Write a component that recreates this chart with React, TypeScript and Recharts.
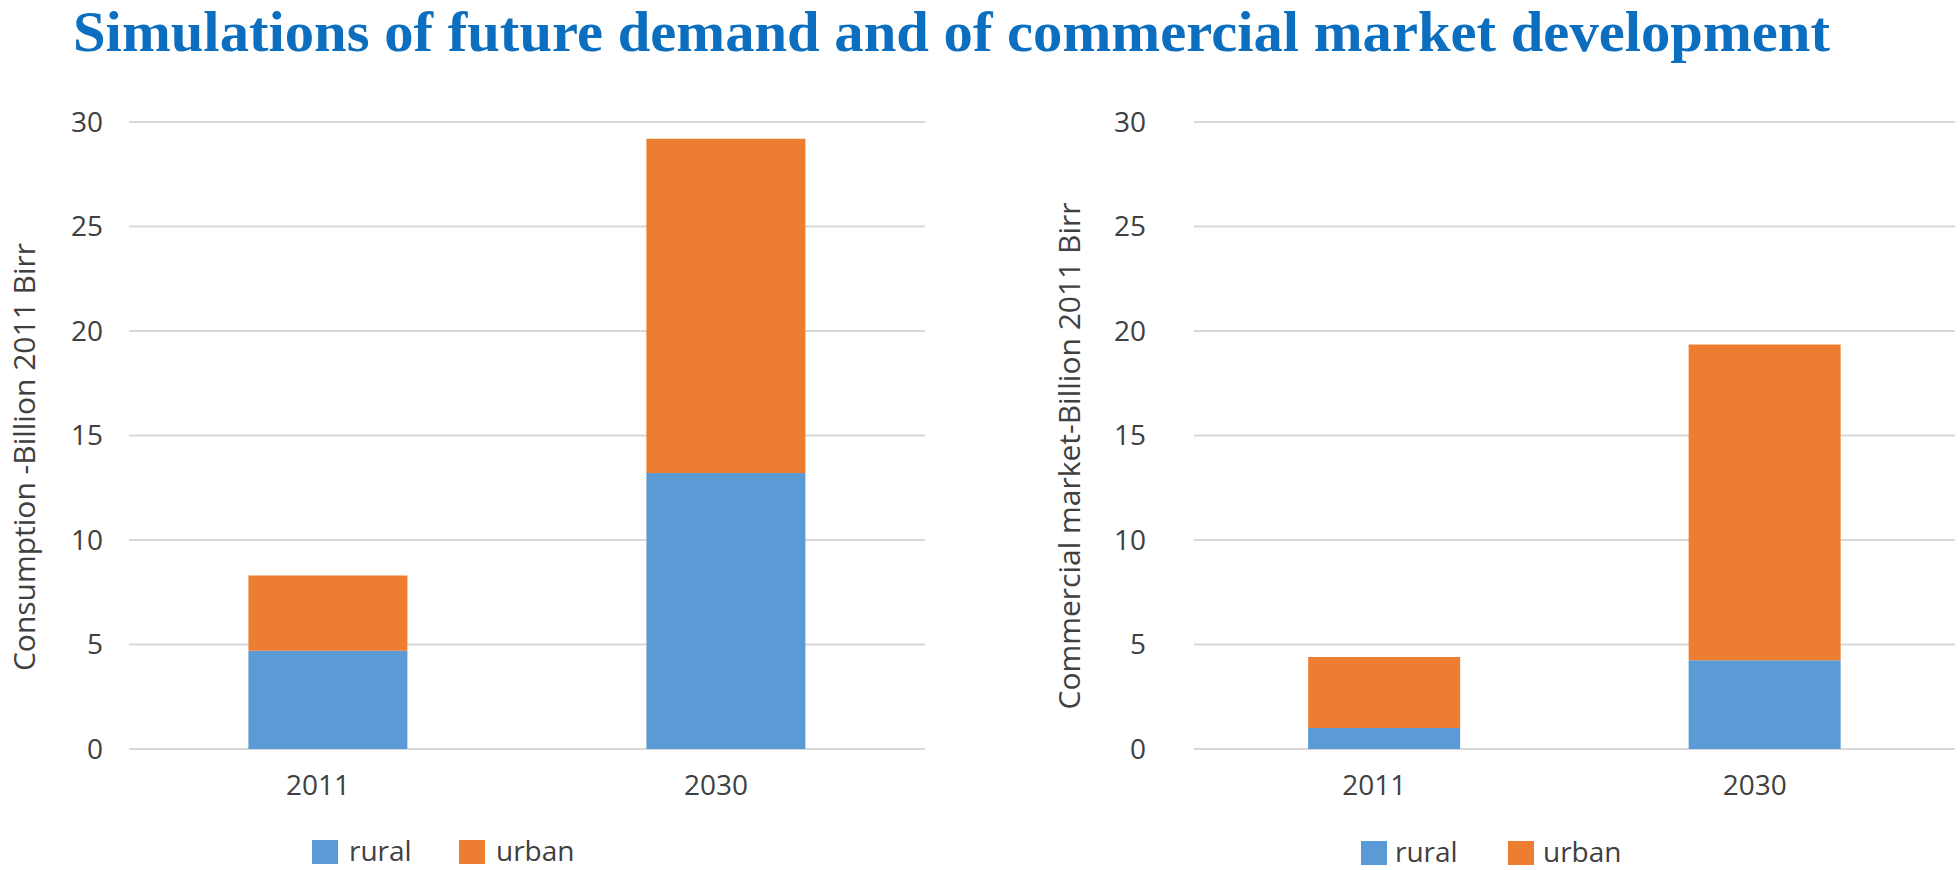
import React from "react";
import {
  BarChart,
  Bar,
  XAxis,
  YAxis,
  CartesianGrid,
} from "recharts";

// categories and values
const YEARS = ["2011", "2030"];
const CONSUMPTION_RURAL = [4.7, 13.2];
const CONSUMPTION_URBAN = [3.6, 16.0];
const MARKET_RURAL = [1.0, 4.25];
const MARKET_URBAN = [3.4, 15.1];
const Y_TICKS = [0, 5, 10, 15, 20, 25, 30];

const RURAL_COLOR = "#5b9bd5";
const URBAN_COLOR = "#ed7d31";
const GRID_COLOR = "#d9d9d9";
const TEXT_COLOR = "#404040";
const FONT = "'Open Sans', sans-serif";

const buildRows = (rural: number[], urban: number[]) =>
  YEARS.map((year, i) => ({ year, rural: rural[i], urban: urban[i] }));

interface PanelProps {
  rural: number[];
  urban: number[];
  left: number;
  axisWidth: number;
  tickGap: number;
  marginRight: number;
  yLabel: string;
  labelX: number;
  labelY: number;
}

function Panel({
  rural,
  urban,
  left,
  axisWidth,
  tickGap,
  marginRight,
  yLabel,
  labelX,
  labelY,
}: PanelProps) {
  const data = buildRows(rural, urban);
  return (
    <div style={{ position: "absolute", left, top: 0 }}>
      <BarChart
        width={960}
        height={870}
        data={data}
        margin={{ top: 122, right: marginRight, bottom: 81, left: 0 }}
        barCategoryGap="30%"
      >
        <CartesianGrid
          vertical={false}
          stroke={GRID_COLOR}
          strokeWidth={2}
        />
        <XAxis
          dataKey="year"
          height={40}
          axisLine={false}
          tickLine={false}
          tickMargin={20}
          tick={{ fill: TEXT_COLOR, fontSize: 28, fontFamily: FONT, dx: -10 }}
        />
        <YAxis
          width={axisWidth}
          domain={[0, 30]}
          ticks={Y_TICKS}
          axisLine={false}
          tickLine={false}
          tickMargin={tickGap}
          tick={{ fill: TEXT_COLOR, fontSize: 28, fontFamily: FONT }}
          label={{
            content: () => (
              <text
                x={labelX}
                y={labelY}
                transform={`rotate(-90, ${labelX}, ${labelY})`}
                textAnchor="middle"
                dominantBaseline="central"
                fill={TEXT_COLOR}
                fontSize={30}
                fontFamily={FONT}
              >
                {yLabel}
              </text>
            ),
          }}
        />
        <Bar
          dataKey="rural"
          stackId="a"
          fill={RURAL_COLOR}
          isAnimationActive={false}
        />
        <Bar
          dataKey="urban"
          stackId="a"
          fill={URBAN_COLOR}
          isAnimationActive={false}
        />
      </BarChart>
    </div>
  );
}

function LegendItem({
  x,
  textX,
  top,
  color,
  text,
}: {
  x: number;
  textX: number;
  top: number;
  color: string;
  text: string;
}) {
  return (
    <>
      <div
        style={{
          position: "absolute",
          left: x,
          top,
          width: 26,
          height: 24,
          background: color,
        }}
      />
      <div
        style={{
          position: "absolute",
          left: textX,
          top: top - 3,
          fontFamily: FONT,
          fontSize: 28,
          lineHeight: "26px",
          color: TEXT_COLOR,
        }}
      >
        {text}
      </div>
    </>
  );
}

export default function App() {
  return (
    <div
      style={{
        position: "absolute",
        left: 0,
        top: 0,
        width: 1960,
        height: 870,
        background: "#fff",
        overflow: "hidden",
      }}
    >
      <svg
        width={1960}
        height={80}
        style={{ position: "absolute", left: 0, top: 0 }}
      >
        <text
          x={73}
          y={51}
          textLength={1757}
          lengthAdjust="spacingAndGlyphs"
          fill="#0b6ebf"
          fontFamily="'Liberation Serif', serif"
          fontWeight="bold"
          fontSize={56}
        >
          Simulations of future demand and of commercial market development
        </text>
      </svg>

      <Panel
        rural={CONSUMPTION_RURAL}
        urban={CONSUMPTION_URBAN}
        left={0}
        axisWidth={129}
        tickGap={20}
        marginRight={35}
        yLabel="Consumption -Billion 2011 Birr"
        labelX={23}
        labelY={457}
      />
      <Panel
        rural={MARKET_RURAL}
        urban={MARKET_URBAN}
        left={1000}
        axisWidth={194}
        tickGap={42}
        marginRight={5}
        yLabel="Commercial market-Billion 2011 Birr"
        labelX={68}
        labelY={456}
      />

      <LegendItem x={312} textX={349} top={840} color={RURAL_COLOR} text="rural" />
      <LegendItem x={459} textX={496} top={840} color={URBAN_COLOR} text="urban" />
      <LegendItem x={1361} textX={1395} top={841} color={RURAL_COLOR} text="rural" />
      <LegendItem x={1508} textX={1543} top={841} color={URBAN_COLOR} text="urban" />
    </div>
  );
}
